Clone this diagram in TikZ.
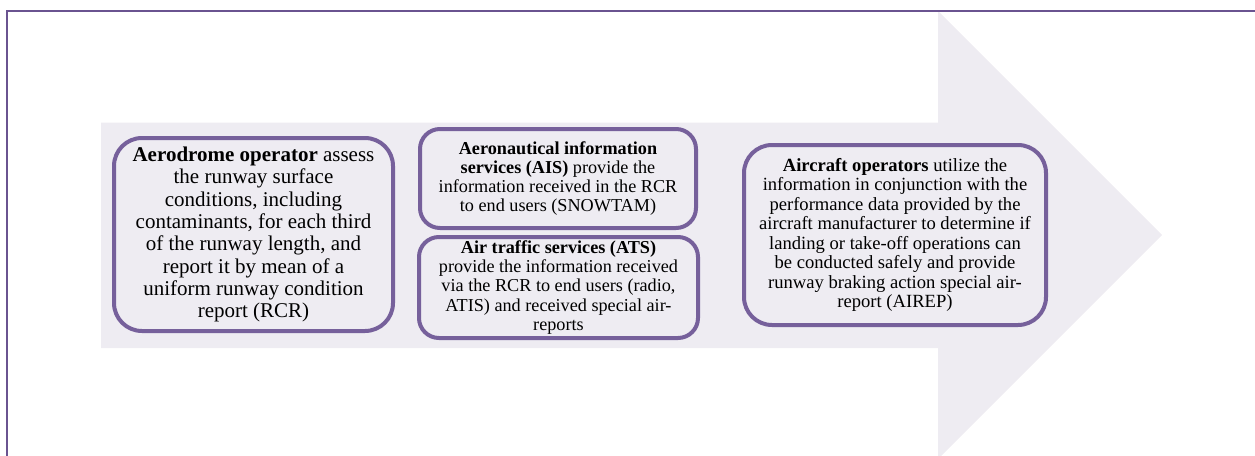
\documentclass[tikz,border=0pt]{standalone}
\usepackage{fontspec}
\setmainfont{Liberation Serif}
\definecolor{framecol}{HTML}{6A5390}
\definecolor{boxline}{HTML}{76609B}
\definecolor{arrowfill}{HTML}{EEECF2}
\begin{document}
\begin{tikzpicture}[x=1pt,y=-1pt,
  card/.style={draw=boxline, line width=4pt, fill=arrowfill, align=center, inner sep=0pt, text=black},
  bigtext/.style={font=\fontsize{21}{22.3}\selectfont},
  midtext/.style={font=\fontsize{18.2}{19.3}\selectfont},
  rtext/.style={font=\fontsize{18.6}{19.5}\selectfont},
]
\useasboundingbox (0,0) rectangle (1255,455);
\clip (0,0) rectangle (1255,455);
% big arrow
\fill[arrowfill] (101,122.5) -- (938,122.5) -- (938,11) -- (1162,235) -- (938,459) -- (938,348) -- (101,348) -- cycle;
% frame
\draw[framecol, line width=2pt] (7,460) -- (7,10.5) -- (1260,10.5);
% boxes
\node[card, bigtext, minimum width=279pt, minimum height=193pt, rounded corners=28pt] (aero) at (253.5,234.5)
 {\textbf{Aerodrome operator} assess\\the runway surface\\conditions, including\\contaminants, for each third\\of the runway length, and\\report it by mean of a\\uniform runway condition\\report (RCR)};
\node[card, midtext, minimum width=276pt, minimum height=99pt, rounded corners=20pt] (ais) at (558,178.5)
 {\textbf{Aeronautical information}\\\textbf{services (AIS)} provide the\\information received in the RCR\\to end users (SNOWTAM)};
\node[card, midtext, minimum width=279pt, minimum height=101pt, rounded corners=20pt] (ats) at (558.5,287.5)
 {\textbf{Air traffic services (ATS)}\\provide the information received\\via the RCR to end users (radio,\\ATIS) and received special air-\\reports};
\node[card, rtext, minimum width=302pt, minimum height=180pt, rounded corners=28pt] (acft) at (895,235)
 {\textbf{Aircraft operators} utilize the\\information in conjunction with the\\performance data provided by the\\aircraft manufacturer to determine if\\landing or take-off operations can\\be conducted safely and provide\\runway braking action special air-\\report (AIREP)};
\end{tikzpicture}
\end{document}
